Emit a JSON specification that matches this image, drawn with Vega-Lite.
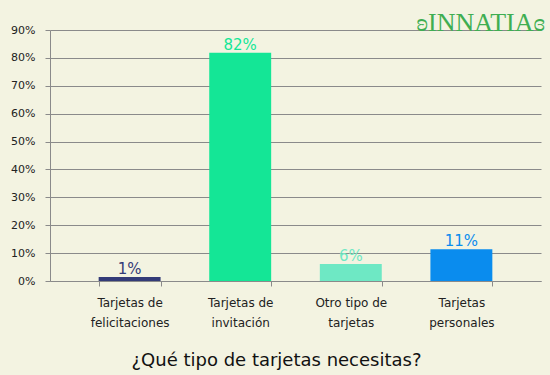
{
  "$schema": "https://vega.github.io/schema/vega-lite/v6.json",
  "autosize": {"type": "none"},
  "width": 491,
  "height": 251,
  "padding": {"left": 50, "top": 30, "right": 9, "bottom": 94},
  "background": "#f3f3e1",
  "title": {"text": "ʚINNATIAɞ", "anchor": "end", "frame": "group", "color": "#3fae52", "font": "Liberation Serif", "fontSize": 26, "fontWeight": "normal", "offset": 0, "dy": 12, "dx": 4},
  "data": {"values": [
    {"tipo": "Tarjetas de felicitaciones", "valor": 0.014},
    {"tipo": "Tarjetas de invitación", "valor": 0.818},
    {"tipo": "Otro tipo de tarjetas", "valor": 0.061},
    {"tipo": "Tarjetas personales", "valor": 0.114}
  ]},
  "config": {
    "view": {"stroke": null},
    "font": "DejaVu Sans",
    "axis": {"domainColor": "#8a8a8a", "tickColor": "#8a8a8a", "gridColor": "#8a8a8a", "labelColor": "#222222", "labelFont": "DejaVu Sans"}
  },
  "encoding": {
    "x": {"field": "tipo", "type": "nominal", "sort": null,
      "scale": {"paddingInner": 0.44, "paddingOuter": 0.44},
      "axis": {"labelAngle": 0, "tickBand": "extent", "tickSize": 5, "labelFontSize": 12, "labelLineHeight": 20, "labelPadding": 11,
        "labelExpr": "[substring(datum.label, 0, lastindexof(datum.label, ' ')), substring(datum.label, lastindexof(datum.label, ' ') + 1)]",
        "title": "¿Qué tipo de tarjetas necesitas?", "titleFontSize": 18, "titleFontWeight": "normal", "titleColor": "#111111",
        "titleX": 226, "titleY": 84, "titleBaseline": "alphabetic", "titleAnchor": null}},
    "y": {"field": "valor", "type": "quantitative",
      "scale": {"domain": [0, 0.9], "nice": false},
      "axis": {"format": ".0%", "values": [0, 0.1, 0.2, 0.3, 0.4, 0.5, 0.6, 0.7, 0.8, 0.9], "tickSize": 5, "labelFontSize": 11, "labelPadding": 10, "title": null, "grid": true}},
    "color": {"field": "tipo", "type": "nominal", "legend": null,
      "scale": {"domain": ["Tarjetas de felicitaciones", "Tarjetas de invitación", "Otro tipo de tarjetas", "Tarjetas personales"],
        "range": ["#333b78", "#14e696", "#6ee8c4", "#0a8cee"]}}
  },
  "layer": [
    {"mark": {"type": "bar"}},
    {"mark": {"type": "text", "baseline": "alphabetic", "dy": -3, "fontSize": 15},
     "encoding": {"text": {"field": "valor", "type": "quantitative", "format": ".0%"}}}
  ]
}
